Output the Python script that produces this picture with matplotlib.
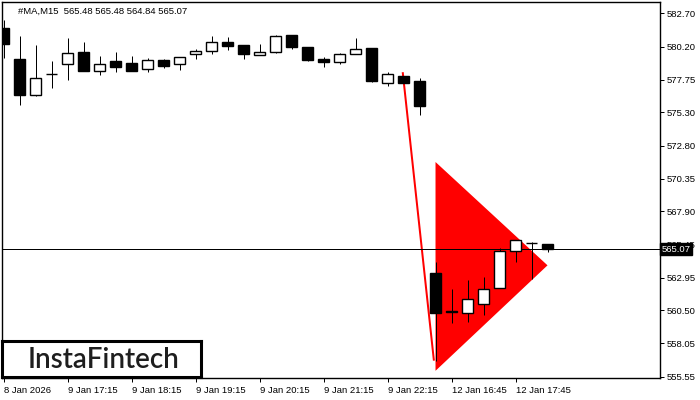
import matplotlib
matplotlib.use("Agg")
import matplotlib.pyplot as plt
from matplotlib.patches import Rectangle, Polygon
from matplotlib.transforms import blended_transform_factory

# ---- data ----
opens = [581.58, 579.29, 576.56, 578.17, 578.89, 579.79, 578.37, 579.14, 578.99, 578.56,
         579.21, 578.89, 579.64, 579.86, 580.53, 580.33, 579.61, 579.83, 581.08, 580.16,
         579.29, 579.04, 579.64, 580.11, 577.47, 578.02, 577.64, 563.30, 560.46, 560.33,
         561.00, 562.15, 564.92, 565.52, 565.48]
highs = [582.20, 581.03, 580.33, 579.14, 580.85, 580.56, 579.51, 579.81, 579.51, 579.36,
         579.29, 579.41, 580.03, 581.00, 580.91, 580.33, 580.41, 581.08, 581.08, 580.16,
         579.44, 579.71, 580.83, 580.11, 578.31, 578.02, 577.84, 564.12, 562.10, 562.77,
         563.00, 565.17, 565.76, 565.59, 565.48]
lows = [579.34, 575.87, 576.54, 577.14, 577.72, 578.41, 578.09, 578.34, 578.39, 578.34,
        578.64, 578.49, 579.31, 579.68, 579.98, 579.31, 579.61, 579.76, 580.03, 579.16,
        578.71, 578.93, 579.64, 577.59, 577.25, 577.47, 575.12, 556.75, 559.58, 559.66,
        560.18, 562.15, 564.14, 562.85, 564.84]
closes = [580.38, 576.62, 577.84, 578.17, 579.71, 578.41, 578.91, 578.71, 578.39, 579.21,
          578.79, 579.41, 579.86, 580.53, 580.28, 579.64, 579.81, 580.98, 580.20, 579.23,
          579.08, 579.66, 580.01, 577.66, 578.14, 577.52, 575.80, 560.33, 560.36, 561.33,
          562.08, 564.94, 565.76, 565.52, 565.07]

pennant_x = [27, 27, 34]
pennant_y = [571.59, 555.99, 563.87]
pole_x = [24.95, 26.9]
pole_y = [578.30, 556.75]

xtick_pos = [0, 4, 8, 12, 16, 20, 24, 28, 32]
xtick_labels = ["8 Jan 2026", "9 Jan 17:15", "9 Jan 18:15", "9 Jan 19:15", "9 Jan 20:15",
                "9 Jan 21:15", "9 Jan 22:15", "12 Jan 16:45", "12 Jan 17:45"]
ytick_vals = [582.70, 580.20, 577.75, 575.30, 572.80, 570.35, 567.90, 565.45,
              562.95, 560.50, 558.05, 555.55]
last_price = 565.07
header = "#MA,M15  565.48 565.48 564.84 565.07"

# ---- figure ----
FONT = "Liberation Sans"
W, H = 700, 400
fig = plt.figure(figsize=(7, 4), dpi=100)
ax = fig.add_axes([2 / W, (H - 378) / H, 658 / W, 376 / H])
ax.set_xlim(-0.094, 41.03)
ax.set_ylim(555.453, 583.544)

px = 0.72  # one pixel in points

# pennant triangle
ax.add_patch(Polygon(list(zip(pennant_x, pennant_y)), closed=True,
                     facecolor="#ff0000", edgecolor="none", zorder=1))
# flag pole
ax.plot(pole_x, pole_y, color="#ff0000", lw=2 * px, zorder=2, solid_capstyle="butt")
# last price line
ax.axhline(last_price, color="black", lw=px, zorder=2)

bw = 0.64
for i, (o, h, l, c) in enumerate(zip(opens, highs, lows, closes)):
    ax.plot([i, i], [l, h], color="black", lw=px, zorder=3, solid_capstyle="butt")
    bottom = min(o, c)
    height = abs(c - o)
    face = "white" if c > o else "black"
    ax.add_patch(Rectangle((i - bw / 2, bottom), bw, height, facecolor=face,
                           edgecolor="black", lw=px * 1.4, zorder=4))

# axes style
for s in ["left", "top", "right", "bottom"]:
    ax.spines[s].set_linewidth(px * 1.4)
    ax.spines[s].set_color("black")

ax.yaxis.tick_right()
ax.set_yticks(ytick_vals)
ax.set_yticklabels([f"{v:.2f}" for v in ytick_vals], fontsize=6.8, family=FONT)
ax.tick_params(axis="y", direction="out", length=3, width=px, pad=2, colors="black")
ax.set_xticks(xtick_pos)
ax.set_xticklabels(xtick_labels, fontsize=6.8, family=FONT, ha="left")
ax.tick_params(axis="x", direction="out", length=3, width=px, pad=2.5, colors="black")
for lab in ax.get_xticklabels():
    lab.set_horizontalalignment("left")

# last price box on right axis
trans = blended_transform_factory(ax.transAxes, ax.transData)
ax.text(1.0022, last_price, "565.07", transform=trans, fontsize=6.8, family=FONT,
        color="white", va="center", ha="left", zorder=10, clip_on=False,
        bbox=dict(boxstyle="square,pad=0.15", facecolor="black", edgecolor="black"))

# header text
fig.text(18 / W, 1 - 11 / H, header, fontsize=6.8, family=FONT, color="black",
         va="center", ha="left")

# logo box
logo_ax = fig.add_axes([2 / W, (H - 377) / H, 199 / W, 36 / H])
logo_ax.set_xticks([])
logo_ax.set_yticks([])
logo_ax.set_facecolor("white")
for s in logo_ax.spines.values():
    s.set_linewidth(2.2)
    s.set_color("black")
logo_ax.text(0.51, 0.47, "InstaFintech", fontsize=20, family="Lato", fontweight="semibold",
             color="#1e1e1e", ha="center", va="center", transform=logo_ax.transAxes)

fig.savefig("out.png", dpi=100)
